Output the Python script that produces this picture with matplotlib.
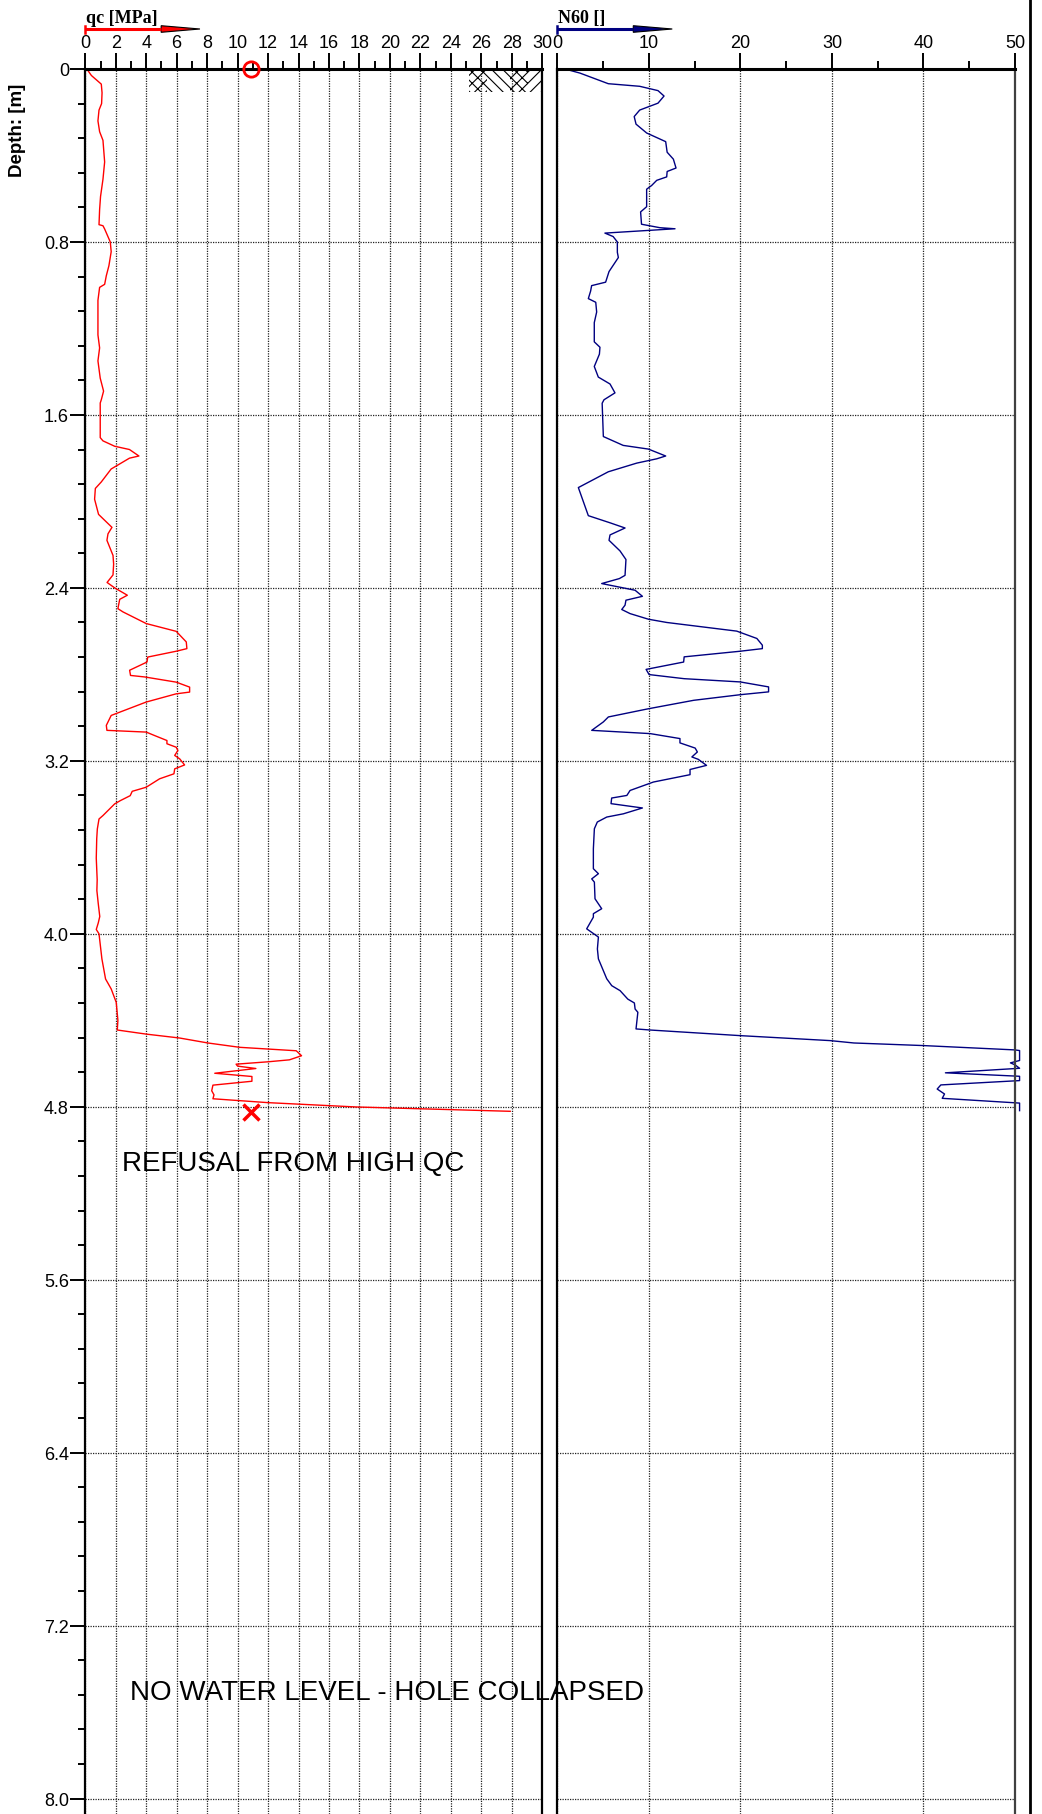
import matplotlib
matplotlib.use('Agg')
import matplotlib.pyplot as plt
from matplotlib.patches import Rectangle, Polygon
from matplotlib.lines import Line2D

# cone resistance qc [MPa] against depth [m]
qc_depth = [0.00, 0.03, 0.07, 0.11, 0.16, 0.19, 0.24, 0.29, 0.33, 0.43, 0.51, 0.59,
            0.65, 0.72, 0.725, 0.74, 0.80, 0.845, 0.91, 0.956, 0.996, 1.01, 1.07,
            1.23, 1.29, 1.35, 1.43, 1.49, 1.53, 1.545, 1.705, 1.72, 1.745, 1.76,
            1.79, 1.80, 1.85, 1.91, 1.94, 1.99, 2.06, 2.12, 2.15, 2.18, 2.25, 2.29,
            2.34, 2.375, 2.40, 2.434, 2.453, 2.496, 2.511, 2.565, 2.601, 2.650,
            2.681, 2.693, 2.720, 2.743, 2.781, 2.805, 2.812, 2.836, 2.859, 2.882,
            2.890, 2.928, 2.990, 3.036, 3.059, 3.067, 3.083, 3.106, 3.121, 3.137,
            3.152, 3.175, 3.191, 3.219, 3.237, 3.260, 3.283, 3.322, 3.341, 3.361,
            3.384, 3.399, 3.422, 3.453, 3.469, 3.515, 3.56, 3.65, 3.75, 3.80, 3.86,
            3.92, 3.95, 3.98, 4.00, 4.06, 4.116, 4.209, 4.255, 4.317, 4.40, 4.445,
            4.464, 4.482, 4.505, 4.525, 4.541, 4.564, 4.583, 4.592, 4.603, 4.612,
            4.623, 4.645, 4.660, 4.682, 4.700, 4.726, 4.745, 4.763, 4.781, 4.801,
            4.821]
qc_value = [0.10, 0.40, 1.05, 1.10, 1.07, 0.90, 0.83, 0.94, 1.16, 1.27, 1.16, 1.00,
            0.94, 0.90, 1.16, 1.27, 1.64, 1.70, 1.55, 1.38, 1.27, 0.94, 0.83,
            0.83, 0.94, 0.83, 0.98, 1.20, 1.05, 0.98, 0.98, 1.16, 1.93, 2.90,
            3.52, 2.90, 1.70, 1.05, 0.66, 0.61, 0.87, 1.75, 1.49, 1.42, 1.82, 1.86,
            1.82, 1.43, 1.93, 2.76, 2.26, 2.14, 2.47, 4.00, 5.97, 6.63,
            6.67, 5.97, 4.10, 4.05, 2.91, 2.97, 3.90, 5.97, 6.85, 6.85,
            5.97, 4.00, 1.70, 1.38, 1.42, 4.00, 4.55, 5.36, 5.36, 5.97,
            6.08, 5.87, 6.20, 6.52, 5.87, 5.82, 4.88, 4.00, 3.08, 2.95,
            2.30, 1.93, 1.60, 1.16, 0.90, 0.79, 0.75, 0.72, 0.78, 0.76, 0.85,
            0.95, 0.85, 0.72, 0.90, 1.00, 1.09, 1.33, 1.70, 2.03, 2.14, 2.10,
            4.00, 6.19, 8.05, 10.13, 13.85, 14.20, 13.40, 12.00, 9.90, 10.00,
            11.20, 8.50, 10.94, 10.94, 8.38, 8.30, 8.45, 8.38, 12.00, 17.80,
            27.90]

# SPT equivalent N60 [] against depth [m]
n60_depth = [0.00, 0.019, 0.068, 0.08, 0.10, 0.125, 0.158, 0.19, 0.22, 0.255, 0.296,
             0.32, 0.336, 0.385, 0.417, 0.458, 0.474, 0.499, 0.515, 0.539, 0.556,
             0.637, 0.661, 0.718, 0.734, 0.739, 0.759, 0.775, 0.80, 0.848, 0.872,
             0.937, 0.986, 1.002, 1.027, 1.062, 1.079, 1.124, 1.173, 1.262, 1.287,
             1.319, 1.376, 1.425, 1.457, 1.498, 1.53, 1.546, 1.70, 1.741, 1.758,
             1.790, 1.803, 1.823, 1.863, 1.936, 2.001, 2.066, 2.099, 2.123, 2.155,
             2.18, 2.229, 2.269, 2.342, 2.357, 2.38, 2.411, 2.439, 2.457, 2.48,
             2.50, 2.519, 2.545, 2.56, 2.60, 2.634, 2.665, 2.681, 2.693, 2.719,
             2.743, 2.777, 2.801, 2.82, 2.835, 2.858, 2.881, 2.894, 2.92, 2.959,
             2.997, 3.02, 3.059, 3.074, 3.097, 3.117, 3.141, 3.159, 3.182, 3.193,
             3.221, 3.24, 3.264, 3.298, 3.337, 3.36, 3.372, 3.398, 3.418, 3.445,
             3.46, 3.483, 3.514, 3.607, 3.699, 3.722, 3.746, 3.761, 3.838, 3.884,
             3.907, 3.923, 3.977, 4.015, 4.07, 4.116, 4.17, 4.208, 4.24, 4.263,
             4.302, 4.32, 4.348, 4.363, 4.402, 4.44, 4.445, 4.471, 4.494, 4.505,
             4.517, 4.537, 4.540, 4.586, 4.597, 4.606, 4.622, 4.643, 4.659, 4.679,
             4.699, 4.718, 4.741, 4.761, 4.783, 4.818]
n60_value = [0.84, 2.48, 5.57, 9.0, 11.0, 11.66, 11.0, 9.0, 8.4, 8.6, 9.76,
             11.0, 11.84, 12.0, 12.68, 12.97, 12.0, 11.95, 10.86, 10.3, 9.76,
             9.76, 9.1, 9.2, 11.2, 12.86, 5.2, 6.1, 6.56, 6.56, 6.67,
             5.65, 5.28, 3.75, 3.64, 3.39, 4.2, 4.3, 4.04, 4.04, 4.66,
             4.6, 4.04, 4.48, 5.76, 6.3, 5.1, 4.9, 5.03, 7.2, 9.95,
             11.84, 10.86, 8.67, 5.57, 2.3, 2.84, 3.39, 5.76, 7.4, 5.76,
             5.65, 6.85, 7.5, 7.4, 6.78, 4.85, 8.5, 9.3, 7.5, 7.4,
             7.04, 7.95, 9.96, 11.96, 19.6, 21.8, 22.4, 22.4, 19.98, 13.86,
             13.8, 9.7, 10.03, 13.86, 19.98, 23.08, 23.08, 20.0, 14.9, 9.96,
             5.58, 5.03, 3.76, 10.14, 13.4, 13.4, 15.06, 15.3, 14.7, 15.4,
             16.3, 14.5, 14.5, 10.5, 7.95, 7.6, 5.94, 5.87, 9.3, 7.22,
             5.4, 4.37, 4.05, 3.94, 3.94, 4.49, 3.76, 4.05, 4.12, 4.85,
             3.94, 3.94, 3.21, 4.49, 4.38, 4.49, 5.03, 5.4, 5.95, 6.86,
             7.7, 8.42, 8.5, 8.8, 8.7, 8.6, 10.14, 19.98, 29.8, 32.4,
             40.0, 49.96, 50.5, 50.5, 49.5, 50.0, 50.5, 42.4, 50.5, 50.5,
             41.9, 41.5, 42.3, 42.05, 50.5, 50.5]

depth_ticks = [0, 0.8, 1.6, 2.4, 3.2, 4.0, 4.8, 5.6, 6.4, 7.2, 8.0]
depth_labels = ['0', '0.8', '1.6', '2.4', '3.2', '4.0', '4.8', '5.6', '6.4', '7.2', '8.0']
depth_minor = [i * 0.16 for i in range(51)]
qc_ticks = list(range(0, 31, 2))
qc_minor = list(range(0, 31))
n60_ticks = [0, 10, 20, 30, 40, 50]
n60_minor = [0, 5, 10, 15, 20, 25, 30, 35, 40, 45, 50]

start_marker = (10.9, 0.0)
end_marker = (10.9, 4.822)

SANS = 'Liberation Sans'
SERIF = 'Liberation Serif'
W, H = 1042, 1815
TOP = 70          # pixel row of depth 0
PX_PER_M = 216.2
QC_LEFT, QC_RIGHT = 85.3, 542.2
N_LEFT, N_RIGHT = 557.3, 1015.0


def px_to_axfrac(y_px):
    # pixel row from the top of the figure -> y axes fraction
    return (H - y_px) / (H - TOP)


def style_axes(ax, xlim, major, minor, right_color='k'):
    ax.set_xlim(*xlim)
    ax.set_ylim((H - TOP) / PX_PER_M, 0)
    ax.xaxis.tick_top()
    ax.set_xticks(major)
    ax.set_xticks(minor, minor=True)
    ax.set_xticklabels([str(v) for v in major], fontsize=13, family=SANS)
    ax.tick_params(axis='x', which='major', length=11.5, width=1.4, pad=1.5)
    ax.tick_params(axis='x', which='minor', length=5.8, width=1.4)
    ax.set_yticks(depth_ticks)
    ax.grid(True, which='major', linestyle=(0, (1, 1)), color='#222222', lw=0.9)
    ax.spines['bottom'].set_visible(False)
    ax.spines['top'].set_linewidth(2.2)
    ax.spines['left'].set_linewidth(1.6)
    ax.spines['right'].set_linewidth(1.6)
    ax.spines['right'].set_color(right_color)


def header_arrow(ax, x_end, x_head, color, y_px=30):
    tr = ax.get_xaxis_transform()
    y = px_to_axfrac(y_px)
    ax.plot([0, x_head], [y, y], color=color, lw=2.2, transform=tr,
            clip_on=False, solid_capstyle='butt')
    ax.plot([0, 0], [px_to_axfrac(y_px - 3.5), px_to_axfrac(y_px + 3.5)],
            color=color, lw=1.8, transform=tr, clip_on=False)
    head = Polygon([(x_head, px_to_axfrac(y_px - 3.3)),
                    (x_head, px_to_axfrac(y_px + 3.3)),
                    (x_end, y)], closed=True, facecolor=color,
                   edgecolor='black', lw=0.8, transform=tr, clip_on=False)
    ax.add_patch(head)


def main():
    plt.rcParams['hatch.linewidth'] = 0.8
    fig = plt.figure(figsize=(W / 100, H / 100), dpi=100)
    ax_h = (H - TOP) / H
    ax_qc = fig.add_axes([QC_LEFT / W, 0, (QC_RIGHT - QC_LEFT) / W, ax_h])
    ax_n = fig.add_axes([N_LEFT / W, 0, (N_RIGHT - N_LEFT) / W, ax_h])

    # qc panel
    style_axes(ax_qc, (0, 30), qc_ticks, qc_minor)
    ax_qc.set_yticks(depth_minor, minor=True)
    ax_qc.set_yticklabels(depth_labels, fontsize=13, family=SANS)
    ax_qc.tick_params(axis='y', which='major', length=10.8, width=1.4, pad=1)
    ax_qc.tick_params(axis='y', which='minor', length=5.3, width=1.4)
    ax_qc.plot(qc_value, qc_depth, color='#ff0000', lw=1.0)
    ax_qc.plot(*start_marker, marker='o', ms=11, mfc='none', mec='#ff0000',
               mew=2.0, clip_on=False, zorder=5)
    ax_qc.plot(*end_marker, marker='x', ms=12, mec='#ff0000', mew=2.5, zorder=5)

    # soil symbol at the top of the qc panel
    for x0, x1, pat in [(25.2, 26.4, '\\\\\\///'), (26.4, 27.9, '\\\\\\'),
                        (27.9, 29.1, '\\\\\\///'), (29.1, 30.0, '///')]:
        ax_qc.add_patch(Rectangle((x0, 0), x1 - x0, 0.105, hatch=pat,
                                  facecolor='none', edgecolor='black', lw=0))

    ax_qc.text(2.38, 5.093, 'REFUSAL FROM HIGH QC', fontsize=20, family=SANS,
               ha='left', va='baseline')

    # N60 panel
    style_axes(ax_n, (0, 50), n60_ticks, n60_minor, right_color='#404040')
    ax_n.tick_params(axis='y', which='both', length=0, labelleft=False)
    ax_n.plot(n60_value, n60_depth, color='#000080', lw=1.0, clip_on=False)

    header_arrow(ax_qc, 7.53, 4.98, '#ff0000')
    header_arrow(ax_n, 12.56, 8.3, '#000080')

    # note that runs across both panels
    fig.text((QC_LEFT + 2.91 * (QC_RIGHT - QC_LEFT) / 30) / W, 1 - 1700 / H,
             'NO WATER LEVEL - HOLE COLLAPSED', fontsize=20, family=SANS,
             ha='left', va='baseline', zorder=10)

    fig.text(86 / W, 1 - 22.7 / H, 'qc [MPa]', family=SERIF, weight='bold',
             fontsize=13, va='baseline')
    fig.text(557.5 / W, 1 - 22.7 / H, 'N60 []', family=SERIF, weight='bold',
             fontsize=13, va='baseline')
    fig.text(17.5 / W, 1 - 130 / H, 'Depth: [m]', rotation=90, family=SANS,
             weight='bold', fontsize=13.5, ha='center', va='center')

    fig.add_artist(Line2D([1030 / W, 1030 / W], [0, 1], transform=fig.transFigure,
                          color='black', lw=2.0))

    fig.savefig('out.png', dpi=100)


if __name__ == '__main__':
    main()
